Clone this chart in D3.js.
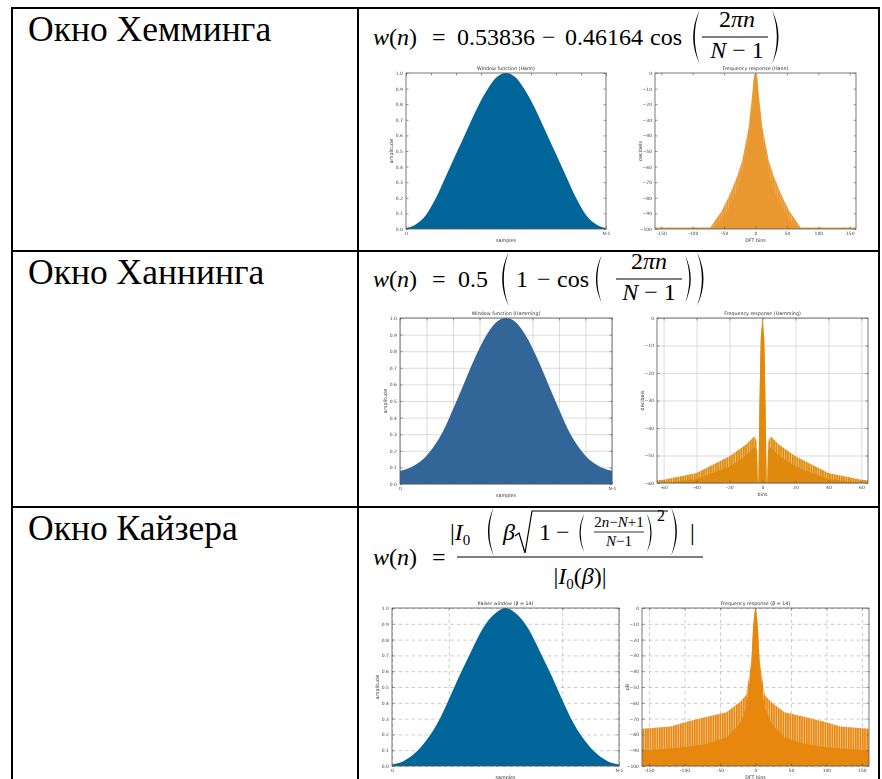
<!DOCTYPE html>
<html>
<head>
<meta charset="utf-8">
<script src="https://cdnjs.cloudflare.com/ajax/libs/d3/7.8.5/d3.min.js"></script>
<style>
  body { margin: 0; background: #fff; }
  svg { display: block; }
  .serif { font-family: 'Liberation Serif', 'DejaVu Serif', serif; }
  .sans { font-family: 'DejaVu Sans', sans-serif; }
</style>
</head>
<body>
<script>
// ---- values ----
const rowNames = ['Окно Хемминга', 'Окно Ханнинга', 'Окно Кайзера'];

// window shapes, 21 samples from 0 to N-1
const hammingWin = [0.005, 0.03, 0.09, 0.2, 0.34, 0.48, 0.62, 0.76, 0.88, 0.97, 1.0,
                    0.97, 0.88, 0.76, 0.62, 0.48, 0.34, 0.2, 0.09, 0.03, 0.005];
const hanningWin = [0.08, 0.1, 0.14, 0.21, 0.31, 0.45, 0.6, 0.75, 0.88, 0.97, 1.0,
                    0.97, 0.88, 0.75, 0.6, 0.45, 0.31, 0.21, 0.14, 0.1, 0.08];
const kaiserWin  = [0.01, 0.03, 0.08, 0.16, 0.27, 0.42, 0.58, 0.73, 0.87, 0.96, 1.0,
                    0.96, 0.87, 0.73, 0.58, 0.42, 0.27, 0.16, 0.08, 0.03, 0.01];

// frequency responses: envelope of the spikes (dB) and the solid part below it
const hammingBins   = [-160, -72, -53, -40, -29, -21, -11, -5, -2.5, 0, 2.5, 5, 11, 21, 29, 40, 53, 72, 160];
const hammingDb     = [-99, -99, -88, -77, -66, -56, -35, -13, -2, 0, -2, -13, -35, -56, -66, -77, -88, -99, -99];
const hammingCoreDb = [-100, -100, -94, -85, -75, -64, -42, -16, -2.5, 0, -2.5, -16, -42, -64, -75, -85, -94, -100, -100];

const hanningBins   = [-64, -60, -40, -20, -10, -5, -3.4, -2.9, -2.5, -2.1, -1.5, -1, 0,
                       1, 1.5, 2.1, 2.5, 2.9, 3.4, 5, 10, 20, 40, 60, 64];
const hanningDb     = [-59, -58.8, -56.4, -50.3, -46, -43, -45, -60, -60, -42, -20, -7, 0,
                       -7, -20, -42, -60, -60, -45, -43, -46, -50.3, -56.4, -58.8, -59];
const hanningCoreDb = [-60, -60, -58.5, -54, -50, -47, -48, -60, -60, -42, -20, -7, 0,
                       -7, -20, -42, -60, -60, -48, -47, -50, -54, -58.5, -60, -60];

const kaiserBins   = [-160, -120, -97, -70, -41, -22, -13, -6, -3.5, -1.5, 0, 1.5, 3.5, 6, 13, 22, 41, 70, 97, 120, 160];
const kaiserDb     = [-76.5, -75, -72, -69, -66, -59.5, -55, -34, -13, -3, 0, -3, -13, -34, -55, -59.5, -66, -69, -72, -75, -76.5];
const kaiserCoreDb = [-90, -89, -88, -86, -82, -73, -63, -38, -14, -3, 0, -3, -14, -38, -63, -73, -82, -86, -88, -89, -90];

// ticks
const winXTicks = [0, 2.5, 5, 7.5, 10, 12.5, 15, 17.5, 20];
const winXTickLabels = ['0', '', '', '', '', '', '', '', 'N-1'];
const winYTicks = [0, 0.1, 0.2, 0.3, 0.4, 0.5, 0.6, 0.7, 0.8, 0.9, 1];
const kaiserWinXTicks = [0, 5, 10, 15, 20];
const kaiserWinXTickLabels = ['0', '', '', '', 'N-1'];
const dftXTicks = [-150, -100, -50, 0, 50, 100, 150];
const dbYTicks100 = [0, -10, -20, -30, -40, -50, -60, -70, -80, -90, -100];
const hanningFreqXTicks = [-60, -40, -20, 0, 20, 40, 60];
const hanningFreqYTicks = [0, -10, -20, -30, -40, -50, -60];

// ---- page ----
const W = 882, H = 779;

const svg = d3.select('body').append('svg').attr('width', W).attr('height', H);
svg.append('rect').attr('width', W).attr('height', H).attr('fill', '#fff');
const defs = svg.append('defs');
defs.append('filter').attr('id', 'soft')
  .append('feGaussianBlur').attr('stdDeviation', 0.4);

// striped fill used for the spiky part of the spectra
function stripes(id, base, stripe, opacity) {
  const p = defs.append('pattern').attr('id', id)
    .attr('patternUnits', 'userSpaceOnUse').attr('width', 7).attr('height', 10);
  p.append('rect').attr('width', 7).attr('height', 10).attr('fill', base);
  [[0, 0.9], [2.6, 0.6], [4.8, 0.8]].forEach(([sx, sw]) =>
    p.append('rect').attr('x', sx).attr('width', sw).attr('height', 10)
      .attr('fill', stripe).attr('opacity', opacity));
}
stripes('strHamm', '#e8982f', '#fff', 0.22);
stripes('strHann', '#e08a0a', '#fff', 0.5);
stripes('strKais', '#e8870f', '#fff', 0.55);

// table grid
const colX = [12, 358, 879];
const rowY = [8, 251, 507];
const grid = svg.append('g').attr('stroke', '#000').attr('stroke-width', 2);
colX.forEach(cx => grid.append('line').attr('x1', cx).attr('x2', cx).attr('y1', rowY[0] - 1).attr('y2', H + 5));
rowY.forEach(ry => grid.append('line').attr('x1', colX[0] - 1).attr('x2', colX[2] + 1).attr('y1', ry).attr('y2', ry));

// row names
rowNames.forEach((name, i) => {
  svg.append('text').attr('class', 'serif').attr('x', 28).attr('y', rowY[i] + 33)
    .attr('font-size', 35.5).text(name);
});

// ---- formula helpers ----
function mtext(x, y, parts, size = 24, anchor = 'start') {
  const t = svg.append('text').attr('class', 'serif').attr('x', x).attr('y', y)
    .attr('font-size', size).attr('text-anchor', anchor);
  parts.forEach(p => {
    const s = t.append('tspan').text(p[0]);
    if (p[1] === 'i') s.style('font-style', 'italic');
    if (p[2]) s.attr('font-size', p[2]);
    if (p[3]) s.attr('dy', p[3]);
  });
  return t;
}
function paren(x, top, bot, side) {
  const w = (bot - top) * 0.16, th = Math.max(1.1, (bot - top) * 0.03), mid = (top + bot) / 2;
  const d = side === 'l'
    ? `M${x + w},${top} Q${x - w * 0.5},${mid} ${x + w},${bot} Q${x - w * 0.5 + th * 2},${mid} ${x + w},${top}Z`
    : `M${x},${top} Q${x + w * 1.5},${mid} ${x},${bot} Q${x + w * 1.5 - th * 2},${mid} ${x},${top}Z`;
  svg.append('path').attr('d', d).attr('fill', '#000');
}
function bar(x1, x2, yb, sw = 1.1) {
  svg.append('line').attr('x1', x1).attr('x2', x2).attr('y1', yb).attr('y2', yb)
    .attr('stroke', '#000').attr('stroke-width', sw);
}
const wn = [['w', 'i'], ['('], ['n', 'i'], [')']];
const twoPiN = [['2'], ['πn', 'i']];
const nMinus1 = [['N', 'i'], [' − 1']];

// Hamming
{
  const b = 37;
  mtext(373, b + 8, wn); mtext(432, b + 8, [['=']]);
  mtext(457, b + 8, [['0.53836']]); mtext(542, b + 8, [['−']]);
  mtext(565, b + 8, [['0.46164']]); mtext(650, b + 8, [['cos']]);
  paren(691, b - 27, b + 27, 'l');
  mtext(737, b - 10, twoPiN, 24, 'middle');
  bar(702, 768, b);
  mtext(737, b + 21, nMinus1, 24, 'middle');
  paren(772, b - 27, b + 27, 'r');
}
// Hanning
{
  const b = 279;
  mtext(373, b + 8, wn); mtext(432, b + 8, [['=']]);
  mtext(458, b + 8, [['0.5']]);
  paren(500, b - 27, b + 27, 'l');
  mtext(516, b + 8, [['1']]); mtext(537, b + 8, [['−']]);
  mtext(557, b + 8, [['cos']]);
  paren(594, b - 24, b + 24, 'l');
  mtext(649, b - 10, twoPiN, 24, 'middle');
  bar(616, 682, b);
  mtext(649, b + 21, nMinus1, 24, 'middle');
  paren(685, b - 24, b + 24, 'r');
  paren(697, b - 27, b + 27, 'r');
}
// Kaiser
{
  const b = 557, nb = 540;
  mtext(373, b + 8, wn); mtext(432, b + 8, [['=']]);
  mtext(450, nb, [['|'], ['I', 'i'], ['0', '', 15, 5]]);
  paren(486, 507, 556, 'l');
  mtext(503, nb, [['β', 'i']]);
  svg.append('path').attr('d', `M515,${nb - 4} L519,${nb - 7} L525,${nb + 13} L532,511 L668,511`)
    .attr('fill', 'none').attr('stroke', '#000').attr('stroke-width', 1.2);
  mtext(539, nb, [['1']]); mtext(556, nb, [['−']]);
  paren(578, 514, 552, 'l');
  mtext(619, 527, [['2'], ['n', 'i'], ['−'], ['N', 'i'], ['+1']], 15, 'middle');
  bar(594, 644, 532, 0.8);
  mtext(619, 546, [['N', 'i'], ['−1']], 15, 'middle');
  paren(647, 514, 552, 'r');
  mtext(657, 521, [['2']], 16);
  paren(671, 507, 556, 'r');
  mtext(690, nb, [['|']]);
  bar(457, 703, b);
  mtext(580, b + 27, [['|'], ['I', 'i'], ['0', '', 15, 5], ['(', '', null, -5], ['β', 'i'], [')|']], 24, 'middle');
}

// ---- chart panels ----
let clipN = 0;
function panel(c) {
  const g = svg.append('g').attr('filter', 'url(#soft)');
  const x = d3.scaleLinear().domain(c.xDomain).range([c.x0, c.x1]);
  const y = d3.scaleLinear().domain(c.yDomain).range([c.y1, c.y0]);
  const w = c.x1 - c.x0, h = c.y1 - c.y0;

  if (c.grid) {
    const st = s => s.call(q => q.select('.domain').remove()).selectAll('line')
      .attr('stroke', c.grid.color).attr('stroke-width', c.grid.width)
      .attr('stroke-dasharray', c.grid.dash || null);
    g.append('g').attr('transform', `translate(0,${c.y1})`)
      .call(d3.axisBottom(x).tickValues(c.xTicks).tickSize(-h).tickFormat('')).call(st);
    g.append('g').attr('transform', `translate(${c.x0},0)`)
      .call(d3.axisLeft(y).tickValues(c.yTicks).tickSize(-w).tickFormat('')).call(st);
  }

  const id = 'clip' + (clipN++);
  g.append('clipPath').attr('id', id).append('rect')
    .attr('x', c.x0).attr('y', c.y0).attr('width', w).attr('height', h);
  c.draw(g.append('g').attr('clip-path', `url(#${id})`), x, y);

  g.append('rect').attr('x', c.x0).attr('y', c.y0).attr('width', w).attr('height', h)
    .attr('fill', 'none').attr('stroke', '#555').attr('stroke-width', 0.8);

  const styleAxis = s => {
    s.select('.domain').remove();
    s.selectAll('line').attr('stroke', '#555').attr('stroke-width', 0.6);
    s.selectAll('text').attr('class', 'sans').attr('font-size', 4.5).attr('fill', '#444');
  };
  g.append('g').attr('transform', `translate(0,${c.y1})`)
    .call(d3.axisBottom(x).tickValues(c.xTicks).tickSize(-2.5).tickPadding(3)
      .tickFormat((d, i) => c.xLabels ? c.xLabels[i] : d)).call(styleAxis);
  g.append('g').attr('transform', `translate(${c.x0},0)`)
    .call(d3.axisLeft(y).tickValues(c.yTicks).tickSize(-2.5).tickPadding(3)).call(styleAxis);
  g.append('g').attr('transform', `translate(0,${c.y0})`)
    .call(d3.axisTop(x).tickValues(c.xTicks).tickSize(-2.5).tickFormat('')).call(styleAxis);
  g.append('g').attr('transform', `translate(${c.x1},0)`)
    .call(d3.axisRight(y).tickValues(c.yTicks).tickSize(-2.5).tickFormat('')).call(styleAxis);

  const lab = (tx, ty, s, rot) => g.append('text').attr('class', 'sans').attr('x', tx).attr('y', ty)
    .attr('text-anchor', 'middle').attr('font-size', 4.8).attr('fill', '#333')
    .attr('transform', rot ? `rotate(-90,${tx},${ty})` : null).text(s);
  lab((c.x0 + c.x1) / 2, c.y0 - 3.5, c.title);
  lab((c.x0 + c.x1) / 2, c.y1 + 13, c.xTitle);
  lab(c.x0 - 13, (c.y0 + c.y1) / 2, c.yTitle, true);
}

function windowMarks(data, color) {
  return (g, x, y) => g.append('path').datum(data).attr('fill', color)
    .attr('d', d3.area().x((d, i) => x(i)).y0(y(0)).y1(d => y(d)).curve(d3.curveMonotoneX));
}
function spectrumMarks(bins, db, core, pattern, color, floor) {
  return (g, x, y) => {
    const env = d3.area().x((d, i) => x(bins[i])).y0(y(floor)).y1(d => y(d));
    g.append('path').datum(db).attr('fill', `url(#${pattern})`).attr('d', env);
    g.append('path').datum(core).attr('fill', color).attr('d', env);
  };
}

const gridSolid = { color: '#c4c4c4', width: 0.6 };
const gridDash = { color: '#aaa', width: 0.6, dash: '3.5,3' };

// row 1
panel({ x0: 406, x1: 606, y0: 73, y1: 229, xDomain: [0, 20], yDomain: [0, 1],
  xTicks: winXTicks, xLabels: winXTickLabels, yTicks: winYTicks,
  title: 'Window function (Hann)', xTitle: 'samples', yTitle: 'amplitude',
  draw: windowMarks(hammingWin, '#006699') });
panel({ x0: 655, x1: 856, y0: 73, y1: 229, xDomain: [-160, 160], yDomain: [-100, 0],
  xTicks: dftXTicks, yTicks: dbYTicks100,
  title: 'Frequency response (Hann)', xTitle: 'DFT bins', yTitle: 'decibels',
  draw: spectrumMarks(hammingBins, hammingDb, hammingCoreDb, 'strHamm', '#e8982f', -100) });

// row 2
panel({ x0: 400, x1: 612, y0: 318, y1: 484, xDomain: [0, 20], yDomain: [0, 1],
  xTicks: winXTicks, xLabels: winXTickLabels, yTicks: winYTicks, grid: gridSolid,
  title: 'Window function (Hamming)', xTitle: 'samples', yTitle: 'amplitude',
  draw: windowMarks(hanningWin, '#336699') });
panel({ x0: 657, x1: 868, y0: 318, y1: 483, xDomain: [-64, 64], yDomain: [-60, 0],
  xTicks: hanningFreqXTicks, yTicks: hanningFreqYTicks, grid: gridSolid,
  title: 'Frequency response (Hamming)', xTitle: 'bins', yTitle: 'decibels',
  draw: spectrumMarks(hanningBins, hanningDb, hanningCoreDb, 'strHann', '#e08a0a', -60) });

// row 3
panel({ x0: 392, x1: 619, y0: 608, y1: 766, xDomain: [0, 20], yDomain: [0, 1],
  xTicks: kaiserWinXTicks, xLabels: kaiserWinXTickLabels, yTicks: winYTicks, grid: gridDash,
  title: 'Kaiser window (β = 14)', xTitle: 'samples', yTitle: 'amplitude',
  draw: windowMarks(kaiserWin, '#00669a') });
panel({ x0: 642, x1: 869, y0: 608, y1: 766, xDomain: [-160, 160], yDomain: [-100, 0],
  xTicks: dftXTicks, yTicks: dbYTicks100, grid: gridDash,
  title: 'Frequency response (β = 14)', xTitle: 'DFT bins', yTitle: 'dB',
  draw: spectrumMarks(kaiserBins, kaiserDb, kaiserCoreDb, 'strKais', '#e8870f', -100) });
</script>
</body>
</html>
